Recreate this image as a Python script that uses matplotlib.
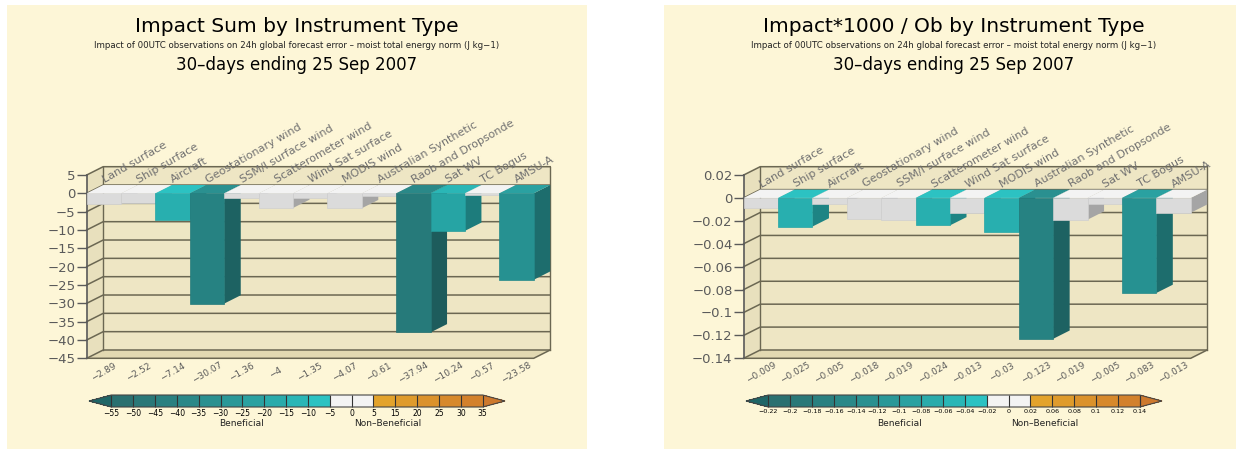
import matplotlib
matplotlib.use("Agg")
import matplotlib.pyplot as plt
from matplotlib.cm import ScalarMappable
from matplotlib.colors import ListedColormap, BoundaryNorm, to_rgb
from matplotlib.patches import Polygon, Rectangle

plt.rcParams.update({'font.family': 'DejaVu Sans'})

instruments = ["Land surface", "Ship surface", "Aircraft", "Geostationary wind",
               "SSM/I surface wind", "Scatterometer wind", "Wind Sat surface",
               "MODIS wind", "Australian Synthetic", "Raob and Dropsonde",
               "Sat WV", "TC Bogus", "AMSU-A"]

impact_sum = [-2.89, -2.52, -7.14, -30.07, -1.36, -4, -1.35, -4.07, -0.61,
              -37.94, -10.24, -0.57, -23.58]
impact_per_ob = [-0.009, -0.025, -0.005, -0.018, -0.019, -0.024, -0.013,
                 -0.03, -0.123, -0.019, -0.005, -0.083, -0.013]

sum_yticks = [5, 0, -5, -10, -15, -20, -25, -30, -35, -40, -45]
per_ob_yticks = [0.02, 0, -0.02, -0.04, -0.06, -0.08, -0.1, -0.12, -0.14]

sum_levels = [-55, -50, -45, -40, -35, -30, -25, -20, -15, -10, -5, 0, 5,
              15, 20, 25, 30, 35]
per_ob_levels = [-0.22, -0.2, -0.18, -0.16, -0.14, -0.12, -0.1, -0.08, -0.06,
                 -0.04, -0.02, 0, 0.02, 0.06, 0.08, 0.1, 0.12, 0.14]

# under, 17 boxes, over
level_colors = ["#1f6667",
                "#2a7070", "#2a7878", "#2a8080", "#2a8888", "#2a9090",
                "#2a9898", "#2aa1a1", "#2aabab", "#2ab6b6", "#2cc2c2",
                "#f3f3f3", "#f3f3f3",
                "#e3a32c", "#df9b2c", "#db922c", "#d7892c", "#d3812c",
                "#cd792e"]

title_sub = ("Impact of 00UTC observations on 24h global forecast error "
             "\u2013 moist total energy norm (J kg\u22121)")
title_date = "30\u2013days ending 25 Sep 2007"

W, H = 1236, 450
BG = "#fdf6d7"
WALL = "#eee6c4"
FLOOR = "#e2d9b2"
LINE = "#6b6752"
GREY = "#5a5a5a"


def fmt(v):
    return ("%g" % v).replace("-", "\u2212")


def shade(c, f):
    r, g, b = to_rgb(c)
    return (r * f, g * f, b * f)


def draw_panel(fig, x0, title, values, yticks, levels, cb_fontsize):
    # beige card behind the panel
    fig.add_artist(Rectangle(((x0 + 7) / W, 1 - 449 / H), 580 / W, 444 / H,
                             transform=fig.transFigure, fc=BG, ec="none",
                             zorder=-1))
    cx = (x0 + 297) / W
    fig.text(cx, 1 - 26 / H, title, ha="center", va="center", fontsize=14.5)
    fig.text(cx, 1 - 46 / H, title_sub, ha="center", va="center",
             fontsize=6.2, color="#222")
    fig.text(cx, 1 - 65 / H, title_date, ha="center", va="center",
             fontsize=12)

    ax = fig.add_axes([(x0 + 86.7) / W, 1 - 358.3 / H, 447 / W, 183.3 / H])
    n = len(values)
    ymin, ymax = yticks[-1], yticks[0]
    ax.set_xlim(0, n)
    ax.set_ylim(ymin, ymax)
    ax.patch.set_visible(False)
    for s in ("top", "right", "bottom"):
        ax.spines[s].set_visible(False)
    ax.spines["left"].set_color(GREY)
    ax.spines["left"].set_linewidth(1.2)
    ax.set_xticks([])
    ax.set_yticks(yticks)
    ax.set_yticklabels([fmt(t) for t in yticks])
    ax.tick_params(axis="y", length=7, width=1, color=GREY, labelsize=9.5,
                   labelcolor=GREY, pad=1)

    # depth of the box in data units
    dx = 16.5 * n / 447
    dy = 8.3 * (ymax - ymin) / 183.3

    kw = dict(clip_on=False, lw=0)
    ax.add_patch(Rectangle((dx, ymin + dy), n, ymax - ymin, fc=WALL, zorder=1, **kw))
    ax.add_patch(Polygon([(0, ymin), (0, ymax), (dx, ymax + dy), (dx, ymin + dy)],
                         fc="#e8e0bd", zorder=1, **kw))
    ax.add_patch(Polygon([(0, ymin), (n, ymin), (n + dx, ymin + dy), (dx, ymin + dy)],
                         fc=FLOOR, zorder=1, **kw))
    for t in yticks:
        ax.plot([0, dx, n + dx], [t, t + dy, t + dy], color=LINE, lw=1.1,
                zorder=2, clip_on=False)
    ax.plot([dx, dx], [ymin + dy, ymax + dy], color=LINE, lw=1, zorder=2, clip_on=False)
    ax.plot([n + dx, n + dx], [ymin + dy, ymax + dy], color=LINE, lw=1, zorder=2,
            clip_on=False)
    ax.plot([0, n, n + dx], [ymin, ymin, ymin + dy], color=LINE, lw=1.1, zorder=2,
            clip_on=False)

    cmap = ListedColormap(level_colors[1:-1])
    cmap.set_under(level_colors[0])
    cmap.set_over(level_colors[-1])
    norm = BoundaryNorm(levels, cmap.N)

    # bars, left to right so each one hides the side of the previous one
    for i, v in enumerate(values):
        base = cmap(norm(v))
        z = 3 + i * 0.01
        top = max(v, 0)
        low = min(v, 0)
        ax.add_patch(Polygon([(i + 1, top), (i + 1, low), (i + 1 + dx, low + dy),
                              (i + 1 + dx, top + dy)],
                             fc=shade(base, 0.68), zorder=z, **kw))
        ax.add_patch(Rectangle((i, low), 1, top - low, fc=shade(base, 0.9),
                               ec=shade(base, 0.85), lw=0.5, clip_on=False,
                               zorder=z))
        ax.add_patch(Polygon([(i, top), (i + 1, top), (i + 1 + dx, top + dy),
                              (i + dx, top + dy)],
                             fc=base, zorder=z, **kw))

        ax.annotate(instruments[i], xy=(i + dx, dy), xytext=(1, 1.5),
                    textcoords="offset points", rotation=30,
                    rotation_mode="anchor", ha="left", va="baseline",
                    fontsize=8, color="#707070", annotation_clip=False,
                    zorder=20)
        ax.annotate(fmt(v), xy=(i + 0.5, ymin), xytext=(0, -10),
                    textcoords="offset points", rotation=30, ha="center",
                    va="center", fontsize=6.5, color=GREY,
                    annotation_clip=False)

    cax = fig.add_axes([(x0 + 89) / W, 1 - 407 / H, 416 / W, 12 / H])
    cb = fig.colorbar(ScalarMappable(norm=norm, cmap=cmap), cax=cax,
                      orientation="horizontal", extend="both",
                      extendfrac=0.06, drawedges=True, ticks=levels)
    cb.ax.set_xticklabels([fmt(l) for l in levels])
    cb.ax.tick_params(length=0, pad=1.5, labelsize=cb_fontsize)
    cb.outline.set_edgecolor("#444")
    cb.outline.set_linewidth(0.8)
    cb.dividers.set_color("#333")
    cb.dividers.set_linewidth(0.8)
    fig.text((x0 + 242) / W, 1 - 423 / H, "Beneficial", ha="center",
             va="center", fontsize=6.5, color="#222")
    fig.text((x0 + 388) / W, 1 - 423 / H, "Non\u2013Beneficial", ha="center",
             va="center", fontsize=6.5, color="#222")


fig = plt.figure(figsize=(W / 100, H / 100), dpi=100)
fig.patch.set_facecolor("white")
draw_panel(fig, 0, "Impact Sum by Instrument Type", impact_sum,
           sum_yticks, sum_levels, 5.5)
draw_panel(fig, 657, "Impact*1000 / Ob by Instrument Type", impact_per_ob,
           per_ob_yticks, per_ob_levels, 4.6)
fig.savefig("out.png", dpi=100)
